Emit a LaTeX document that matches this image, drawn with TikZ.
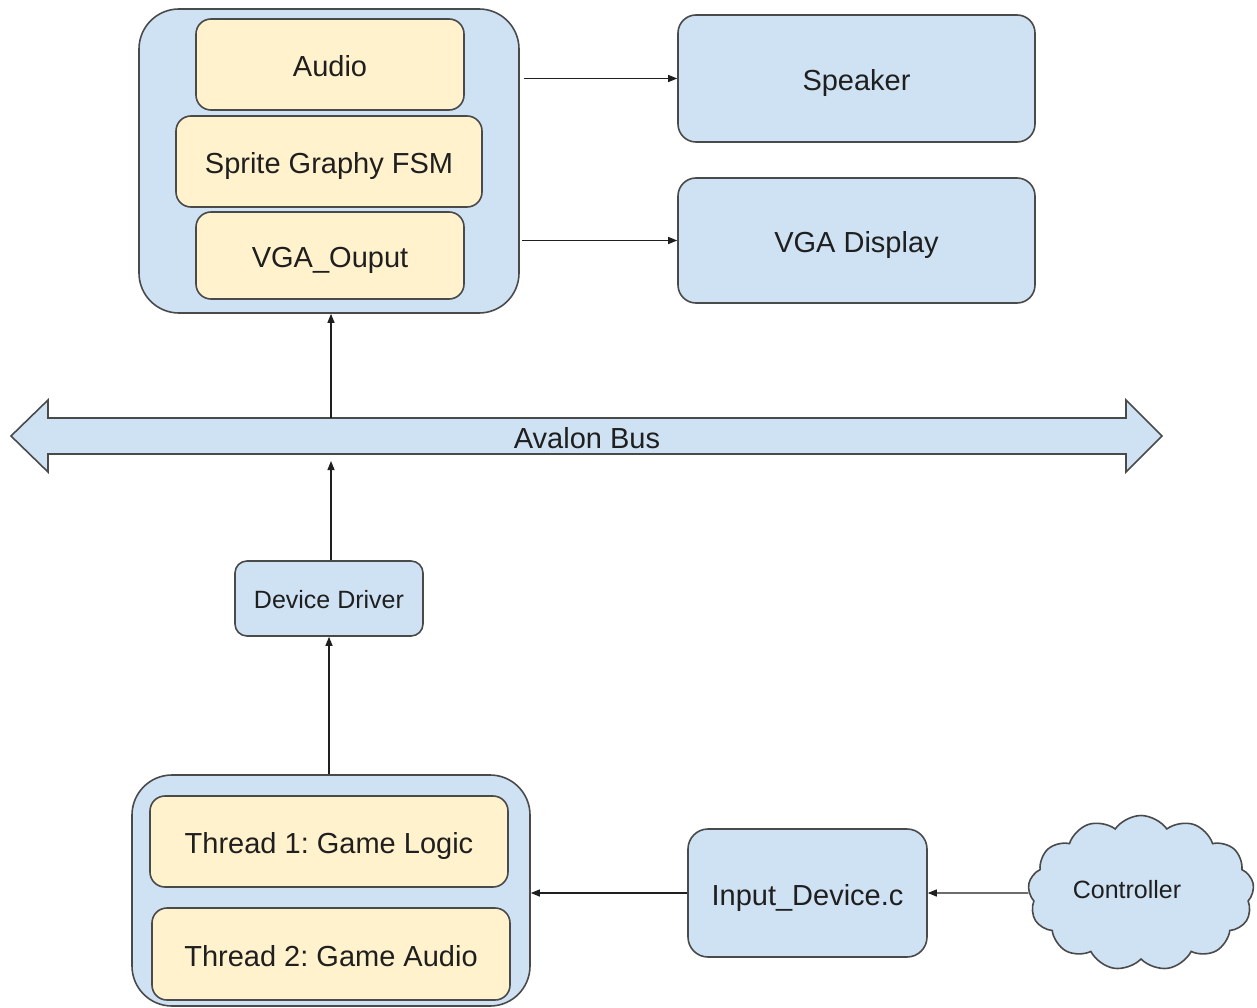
\documentclass[tikz,border=0pt]{standalone}
\usepackage{fontspec}
\setmainfont{Liberation Sans}
\usetikzlibrary{shapes.symbols,arrows.meta,calc}
\definecolor{lblue}{HTML}{CFE2F3}
\definecolor{lyellow}{HTML}{FFF2CC}
\definecolor{edge}{HTML}{4A4A4A}
\definecolor{txt}{HTML}{1F1F1F}
\frenchspacing
\tikzset{
  bigfont/.style={font=\fontsize{29}{34}\selectfont, text height=24pt, text depth=0pt},
  smallfont/.style={font=\fontsize{25}{30}\selectfont, text height=19pt, text depth=0pt},
  box/.style={draw=edge, line width=1.6pt, fill=lblue, rounded corners=18pt, inner sep=0pt, text=txt, bigfont},
  outer/.style={box, rounded corners=40pt},
  inner/.style={box, fill=lyellow, rounded corners=15pt},
  small/.style={box, rounded corners=12pt, smallfont},
  lbl/.style={text=txt, inner sep=0pt},
  arr/.style={draw=txt, line width=1.3pt, -{Triangle[length=9pt,width=7pt]}}
}
\begin{document}
\begin{tikzpicture}[x=1pt,y=-1pt]
\useasboundingbox (0,0) rectangle (1257,1008);
% top FPGA block
\node[outer, minimum width=380pt, minimum height=304pt] (top) at (329,161) {};
\node[inner, minimum width=268pt, minimum height=91pt] (audio) at (330,64.5) {Audio};
\node[inner, minimum width=306pt, minimum height=91pt] (sprite) at (329,161.5) {Sprite Graphy FSM};
\node[inner, minimum width=268pt, minimum height=87pt] (vgaout) at (330,255.5) {VGA\_Ouput};
% outputs
\node[box, minimum width=357pt, minimum height=127pt] (spk) at (856.5,78.5) {Speaker};
\node[box, minimum width=357pt, minimum height=125pt] (vga) at (856.5,240.5) {VGA Display};
% bus
\draw[draw=edge, line width=1.6pt, fill=lblue, line join=miter]
  (11,436) -- (48,400) -- (48,418) -- (1126,418) -- (1126,400) -- (1162,436)
  -- (1126,472) -- (1126,454) -- (48,454) -- (48,472) -- cycle;
\node[lbl, bigfont] (bus) at (587,436) {Avalon Bus};
\coordinate (bustop) at (331,418);
\coordinate (busbot) at (331,461);
% device driver
\node[small, minimum width=188pt, minimum height=75pt] (dd) at (329,598.5) {Device Driver};
% threads
\node[outer, minimum width=398pt, minimum height=231pt] (thr) at (331,890.5) {};
\node[inner, minimum width=358pt, minimum height=91pt] (t1) at (329,841.5) {Thread 1: Game Logic};
\node[inner, minimum width=358pt, minimum height=92pt] (t2) at (331,954) {Thread 2: Game Audio};
% input device
\node[box, rounded corners=20pt, minimum width=239pt, minimum height=128pt] (inp) at (807.5,893) {Input\_Device.c};
% controller cloud
\node[cloud, cloud puffs=13, cloud puff arc=110, aspect=1.5, draw=edge, line width=1.6pt, fill=lblue,
  minimum width=226pt, minimum height=155pt, inner sep=0pt] (ctrl) at (1141,893) {};
\node[lbl, smallfont] (ctrltxt) at (1127,889) {Controller};
% connectors
\draw[arr, shorten <=4pt] (top.east |- spk.west) -- (spk.west);
\draw[arr, shorten <=2pt] (top.east |- vga.west) -- (vga.west);
\draw[arr] (bustop) -- (bustop |- top.south);
\draw[arr] (dd.north -| busbot) -- (busbot);
\draw[arr] (thr.north -| dd.south) -- (dd.south);
\draw[arr] (inp.west) -- (inp.west -| thr.east);
\draw[arr] (ctrl.west) -- (inp.east);
\end{tikzpicture}
\end{document}
